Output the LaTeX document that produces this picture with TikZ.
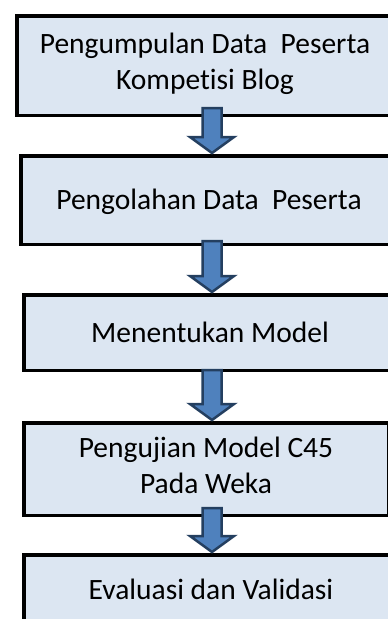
\documentclass[tikz,border=0pt]{standalone}
\usepackage{fontspec}
\setmainfont{Carlito}[Ligatures=NoCommon]
\usetikzlibrary{calc}
\definecolor{boxfill}{HTML}{DCE6F2}
\definecolor{arrfill}{HTML}{4F81BD}
\definecolor{arrline}{HTML}{243F60}
\begin{document}
\begin{tikzpicture}[x=1pt,y=-1pt,
  stepbox/.style={draw=black,line width=3.5pt,fill=boxfill,anchor=north west,
    align=center,inner sep=0pt,font=\fontsize{29.5}{35.75}\selectfont,
    execute at begin node={\rule{0pt}{27pt}},
    execute at end node={\rule[-8pt]{0pt}{8pt}}},
  flowarr/.style={draw=arrline,line width=2.5pt,fill=arrfill,line join=miter}]
\useasboundingbox (0,0) rectangle (388,619);
\clip (0,0) rectangle (388,619);
\coordinate (col) at (212,0);
\node[stepbox,minimum width=376.5pt,minimum height=99.5pt] (kumpul) at (15,14)
  {Pengumpulan Data~~Peserta\\Kompetisi Blog};
\node[stepbox,minimum width=376.5pt,minimum height=88.5pt] (olah) at (19,154)
  {Pengolahan Data~~Peserta};
\node[stepbox,minimum width=372.5pt,minimum height=75.5pt] (model) at (22,293)
  {Menentukan Model};
\node[stepbox,minimum width=364.5pt,minimum height=92.5pt] (uji) at (22,421)
  {Pengujian Model C45\\Pada Weka};
\node[stepbox,minimum width=374.5pt,minimum height=70.5pt] (evaluasi) at (22,553)
  {Evaluasi dan Validasi};
% panah antar tahap
\foreach \a/\b/\o in {kumpul/olah/9,olah/model/5,model/uji/2,uji/evaluasi/9}{
  \draw[flowarr] ($(\a.south -| col)+(-9.5,-\o)$) -- ($(\b.north -| col)+(-9.5,-17)$)
    -- ($(\b.north -| col)+(-22,-17)$) -- ($(\b.north -| col)+(0,-1)$)
    -- ($(\b.north -| col)+(22,-17)$) -- ($(\b.north -| col)+(9.5,-17)$)
    -- ($(\a.south -| col)+(9.5,-\o)$) -- cycle;
}
\end{tikzpicture}
\end{document}
